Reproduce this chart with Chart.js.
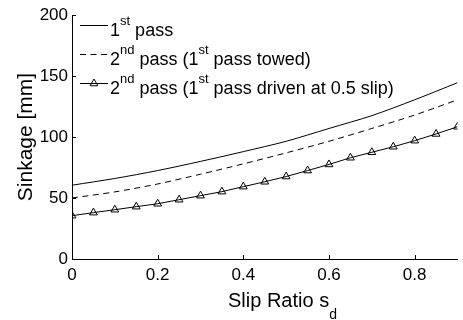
<!DOCTYPE html>
<html>
<head>
<meta charset="utf-8">
<script src="https://cdn.jsdelivr.net/npm/chart.js@4/dist/chart.umd.min.js"></script>
<style>
  html, body { margin: 0; padding: 0; background: #fff; }
  canvas { display: block; }
</style>
</head>
<body>
<canvas id="c" width="463" height="320"></canvas>
<script>
// ---- data ----
const slipLine = [0, 0.1, 0.2, 0.3, 0.4, 0.5, 0.6, 0.7, 0.8, 0.9];
const firstPass = [60.5, 66, 72.5, 80, 88, 96.5, 107, 117.5, 130.5, 144.5];
const secondPassTowed = [50, 55, 61.5, 69.5, 78, 87, 96.5, 107, 118, 130.5];
const slipMarks = [0, 0.05, 0.1, 0.15, 0.2, 0.25, 0.3, 0.35, 0.4, 0.45, 0.5, 0.55, 0.6, 0.65, 0.7, 0.75, 0.8, 0.85, 0.9];
const secondPassDriven = [35.5, 38, 40.4, 42.9, 45.3, 48.6, 51.9, 55.2, 59.3, 63.3, 67.6, 72.5, 77.5, 83, 87.5, 92, 97, 102.5, 108.4];
const xTicks = [0, 0.2, 0.4, 0.6, 0.8];
const yTicks = [0, 50, 100, 150, 200];
const xTitle = [{t: 'Slip Ratio s'}, {t: 'd', sub: true}];
const yTitle = 'Sinkage [mm]';
const legendItems = [
  [{t: '1'}, {t: 'st', sup: true}, {t: ' pass'}],
  [{t: '2'}, {t: 'nd', sup: true}, {t: ' pass (1'}, {t: 'st', sup: true}, {t: ' pass towed)'}],
  [{t: '2'}, {t: 'nd', sup: true}, {t: ' pass (1'}, {t: 'st', sup: true}, {t: ' pass driven at 0.5 slip)'}]
];

const FONT = '"Liberation Sans", Arial, Helvetica, sans-serif';
const DASH = [6, 4.5];

const pts = (xs, ys) => xs.map((x, i) => ({x: x, y: ys[i]}));

function drawRich(ctx, x, baseline, segs, size, small) {
  ctx.textBaseline = 'alphabetic';
  ctx.textAlign = 'left';
  for (const s of segs) {
    let fs = size, dy = 0;
    if (s.sup) { fs = small; dy = -11; }
    if (s.sub) { fs = small; dy = 12; }
    ctx.font = fs + 'px ' + FONT;
    ctx.fillText(s.t, x, baseline + dy);
    x += ctx.measureText(s.t).width;
  }
}

const decor = {
  id: 'decor',
  afterDraw(chart) {
    const ctx = chart.ctx;
    const xs = chart.scales.x, ys = chart.scales.y;
    const area = chart.chartArea;
    ctx.save();
    ctx.strokeStyle = '#000';
    ctx.fillStyle = '#000';
    ctx.lineWidth = 1;
    // inward tick marks
    ctx.beginPath();
    xs.ticks.forEach(t => {
      const px = Math.round(xs.getPixelForValue(t.value)) + 0.5;
      ctx.moveTo(px, area.bottom);
      ctx.lineTo(px, area.bottom - 4);
    });
    ys.ticks.forEach(t => {
      const py = Math.round(ys.getPixelForValue(t.value)) + 0.5;
      ctx.moveTo(area.left, py);
      ctx.lineTo(area.left + 4, py);
    });
    ctx.stroke();

    // legend
    const rows = [25.5, 54.5, 83.5];
    const lx0 = 80, lx1 = 108, tx = 110;
    chart.data.datasets.forEach((ds, i) => {
      const y = rows[i];
      ctx.save();
      ctx.strokeStyle = '#000';
      ctx.lineWidth = 1;
      ctx.setLineDash(ds.borderDash || []);
      ctx.beginPath();
      ctx.moveTo(lx0, y);
      ctx.lineTo(lx1, y);
      ctx.stroke();
      ctx.setLineDash([]);
      if (ds.pointRadius > 0) {
        ctx.fillStyle = 'rgba(0,0,0,0)';
        Chart.helpers.drawPoint(ctx, {pointStyle: 'triangle', radius: ds.pointRadius, borderWidth: 1, rotation: 0}, (lx0 + lx1) / 2, y);
      }
      ctx.restore();
      ctx.fillStyle = '#000';
      drawRich(ctx, tx, y + 10, legendItems[i], 18, 13);
    });

    // x title
    ctx.fillStyle = '#000';
    drawRich(ctx, 228, 306.5, xTitle, 20, 14);

    // y title
    ctx.save();
    ctx.translate(32, 137);
    ctx.rotate(-Math.PI / 2);
    ctx.font = '21px ' + FONT;
    ctx.textAlign = 'center';
    ctx.textBaseline = 'alphabetic';
    ctx.fillText(yTitle, 0, 0);
    ctx.restore();
    ctx.restore();
  }
};

new Chart(document.getElementById('c'), {
  type: 'line',
  data: {
    datasets: [
      {label: '1st pass', data: pts(slipLine, firstPass), borderColor: '#000', borderWidth: 1, pointRadius: 0, tension: 0.3, fill: false},
      {label: '2nd pass (1st pass towed)', data: pts(slipLine, secondPassTowed), borderColor: '#000', borderWidth: 1, borderDash: DASH, pointRadius: 0, tension: 0.3, fill: false},
      {label: '2nd pass (1st pass driven at 0.5 slip)', data: pts(slipMarks, secondPassDriven), borderColor: '#000', borderWidth: 1, pointRadius: 4.5, pointStyle: 'triangle', pointBorderColor: '#000', pointBackgroundColor: 'rgba(0,0,0,0)', pointBorderWidth: 1, tension: 0, fill: false}
    ]
  },
  options: {
    responsive: false,
    animation: false,
    events: [],
    layout: {padding: {top: 15, right: 2, left: 0, bottom: 0}},
    plugins: {legend: {display: false}, tooltip: {enabled: false}, title: {display: false}},
    scales: {
      x: {
        type: 'linear', min: 0, max: 0.9,
        afterBuildTicks: s => { s.ticks = xTicks.map(v => ({value: v})); },
        afterFit: s => { s.height = 61; },
        grid: {display: false, drawTicks: false},
        border: {display: true, color: '#000', width: 1},
        ticks: {padding: 6, color: '#000', font: {family: FONT, size: 17}, maxRotation: 0,
          callback: v => v === 0 ? '0' : v.toFixed(1)}
      },
      y: {
        type: 'linear', min: 0, max: 200,
        afterBuildTicks: s => { s.ticks = yTicks.map(v => ({value: v})); },
        afterFit: s => { s.width = 72; },
        grid: {display: false, drawTicks: false},
        border: {display: true, color: '#000', width: 1},
        ticks: {padding: 4, color: '#000', font: {family: FONT, size: 17},
          callback: v => String(v)}
      }
    }
  },
  plugins: [decor]
});
</script>
</body>
</html>
